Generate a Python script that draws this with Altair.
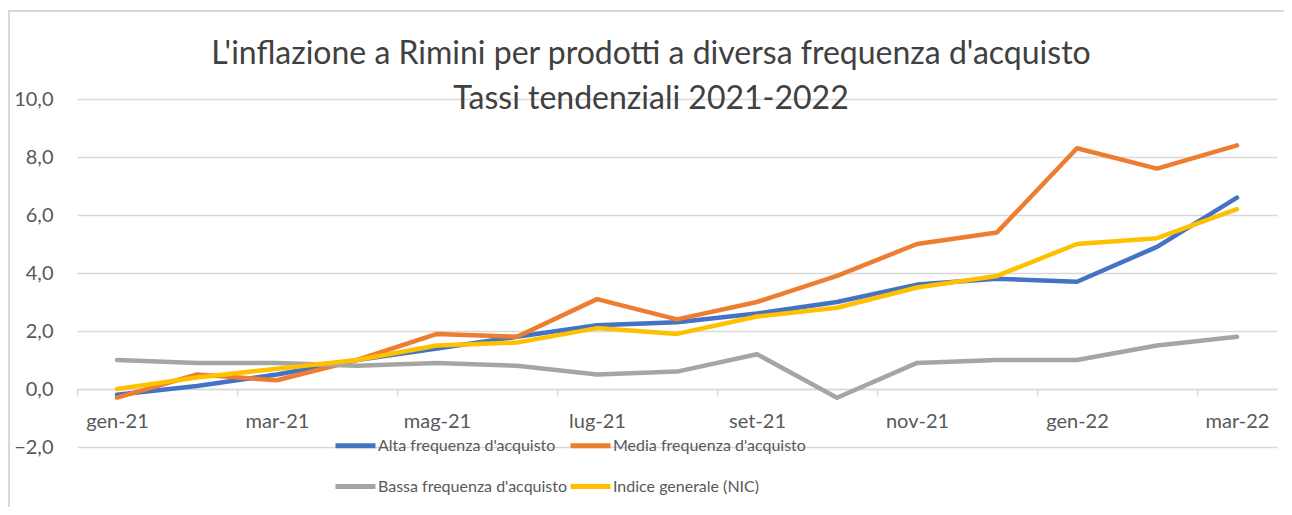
import altair as alt
import pandas as pd

months = ["gen-21", "feb-21", "mar-21", "apr-21", "mag-21", "giu-21", "lug-21",
          "ago-21", "set-21", "ott-21", "nov-21", "dic-21", "gen-22", "feb-22", "mar-22"]

alta = [-0.2, 0.1, 0.5, 1.0, 1.4, 1.8, 2.2, 2.3, 2.6, 3.0, 3.6, 3.8, 3.7, 4.9, 6.6]
media = [-0.3, 0.5, 0.3, 1.0, 1.9, 1.8, 3.1, 2.4, 3.0, 3.9, 5.0, 5.4, 8.3, 7.6, 8.4]
bassa = [1.0, 0.9, 0.9, 0.8, 0.9, 0.8, 0.5, 0.6, 1.2, -0.3, 0.9, 1.0, 1.0, 1.5, 1.8]
indice = [0.0, 0.4, 0.7, 1.0, 1.5, 1.6, 2.1, 1.9, 2.5, 2.8, 3.5, 3.9, 5.0, 5.2, 6.2]

series_names = ["Alta frequenza d'acquisto", "Media frequenza d'acquisto",
                "Bassa frequenza d'acquisto", "Indice generale (NIC)"]
series_values = [alta, media, bassa, indice]
colors = ["#4472C4", "#ED7D31", "#A5A5A5", "#FFC000"]

rows = []
for name, vals in zip(series_names, series_values):
    for i, (m, v) in enumerate(zip(months, vals)):
        rows.append({"idx": i, "mese": m, "serie": name, "valore": v})
df = pd.DataFrame(rows)

FONT = "Lato"
GRID = "#D9D9D9"
TXT = "#595959"

label_array = "[" + ",".join("'" + m + "'" for m in months) + "]"

x_enc = alt.X(
    "idx:Q",
    scale=alt.Scale(domain=[-0.5, len(months) - 0.5], nice=False, zero=False),
    axis=alt.Axis(
        values=list(range(0, len(months), 2)),
        labelExpr=label_array + "[datum.value]",
        title=None,
        grid=False,
        domain=True,
        domainColor=GRID,
        domainWidth=1.5,
        ticks=True,
        tickColor=GRID,
        tickWidth=1.5,
        tickSize=6,
        tickOffset=-40,
        labelOffset=40,
        labelFont=FONT,
        labelFontSize=20,
        labelColor=TXT,
        labelPadding=16,
        offset=-58,
    ),
)

y_enc = alt.Y(
    "valore:Q",
    scale=alt.Scale(domain=[-2, 10], nice=False),
    axis=alt.Axis(
        values=[-2, 0, 2, 4, 6, 8, 10],
        labelExpr="replace(format(datum.value, '.1f'), '.', ',')",
        title=None,
        grid=True,
        gridColor=GRID,
        gridWidth=1.5,
        domain=False,
        ticks=False,
        labelFont=FONT,
        labelFontSize=20,
        labelColor=TXT,
        labelPadding=24,
    ),
)

color_enc = alt.Color(
    "serie:N",
    scale=alt.Scale(domain=series_names, range=colors),
    sort=series_names,
    legend=alt.Legend(
        title=None,
        orient="none",
        legendX=256,
        legendY=324,
        direction="horizontal",
        columns=2,
        columnPadding=-11,
        rowPadding=8,
        symbolType="stroke",
        symbolSize=1600,
        symbolStrokeWidth=5,
        labelOffset=0,
        labelFont=FONT,
        labelFontSize=16,
        labelColor=TXT,
        labelLimit=400,
    ),
)

layers = []
for name in series_names:
    layers.append(
        alt.Chart(df)
        .transform_filter(alt.datum.serie == name)
        .mark_line(strokeWidth=4.5, strokeJoin="round", strokeCap="round")
        .encode(x=x_enc, y=y_enc, color=color_enc)
    )

frame = alt.Chart(pd.DataFrame({"a": [0]})).mark_rect(
    fill=None, stroke=GRID, strokeWidth=2
).encode(
    x=alt.value(-68), x2=alt.value(1300), y=alt.value(-88), y2=alt.value(430)
)

chart = (
    alt.layer(frame, *layers)
    .properties(
        width=1200,
        height=348,
        autosize=alt.AutoSizeParams(type="none"),
        padding={"left": 69, "top": 91, "right": 7, "bottom": 60},
        title=alt.TitleParams(
            text=["L'inflazione a Rimini per prodotti a diversa frequenza d'acquisto",
                  "Tassi tendenziali 2021-2022"],
            font=FONT,
            fontSize=32,
            fontWeight="normal",
            color="#404040",
            lineHeight=45,
            anchor="middle",
            frame="group",
            baseline="top",
            offset=0,
            dx=-26,
            dy=106,
        ),
    )
    .configure_view(stroke=None)
)

chart.save("out.html", embed_options={"renderer": "svg", "actions": False})
